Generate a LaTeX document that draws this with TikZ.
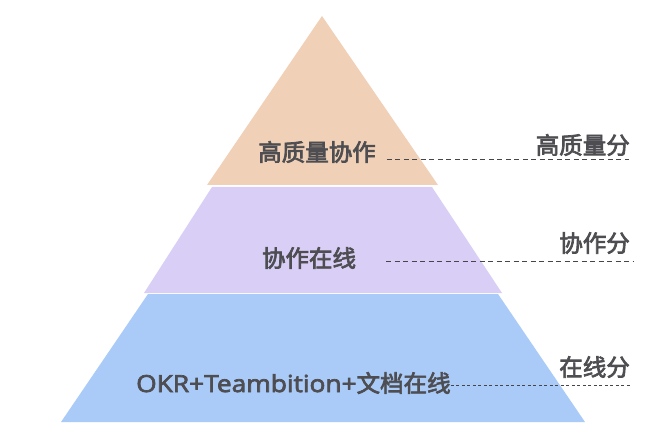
\documentclass[tikz,border=0pt]{standalone}
\usepackage{fontspec}
\setmainfont{Noto Sans CJK SC}[FakeBold=3]
\newfontfamily\latf{Open Sans}[FakeStretch=1.12, FakeBold=3]
\definecolor{peach}{RGB}{240,208,182}
\definecolor{lav}{RGB}{217,206,245}
\definecolor{sky}{RGB}{170,203,248}
\definecolor{txt}{RGB}{78,78,82}
\definecolor{dashc}{RGB}{70,70,74}
\tikzset{
  lbl/.style={inner sep=0pt, text=txt, font=\fontsize{23.5}{26}\selectfont},
  dashA/.style={draw=dashc, line width=1pt, dash pattern=on 5pt off 3.5pt},
  dashB/.style={draw=dashc, line width=0.9pt, dash pattern=on 3pt off 2.5pt},
}
\begin{document}
\begin{tikzpicture}[x=1pt,y=-1pt]
\useasboundingbox (0,0) rectangle (669,438);
% layers
\fill[peach] (322,16) -- (438,185) -- (207,185) -- cycle;
\fill[lav] (212,187) -- (432,187) -- (502,293) -- (144,293) -- cycle;
\fill[sky] (148,294) -- (498,294) -- (585,422) -- (61,422) -- cycle;
% inner labels
\node[lbl] (t1) at (317,152) {高质量协作};
\node[lbl] (t2) at (309,258) {协作在线};
\node[lbl, anchor=west] (t3) at (136,383) {{\latf OKR+Teambition+}文档在线};
% right labels
\node[lbl, anchor=east] (r1) at (630,145) {高质量分};
\node[lbl, anchor=east] (r2) at (630,243) {协作分};
\node[lbl, anchor=east] (r3) at (630,367) {在线分};
% dashed leaders
\coordinate (e1) at (629,160);
\coordinate (e2) at (633,262);
\coordinate (e3) at (632,385);
\draw[dashA] ([xshift=11pt]t1.east |- e1) -- (e1);
\draw[dashA] ([xshift=30pt]t2.east |- e2) -- (e2);
\draw[dashB] (t3.east |- e3) -- (e3);
\end{tikzpicture}
\end{document}
